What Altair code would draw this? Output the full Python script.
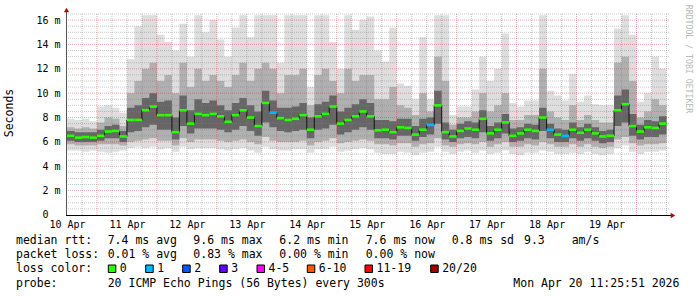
import altair as alt
import pandas as pd

# ---------------- data ----------------
STEP_H = 3  # hours per consolidated column, starting 10 Apr 00:00
median = [6.5, 6.35, 6.4, 6.35, 6.5, 6.85, 6.9, 6.45, 7.8, 7.8,
          8.6, 8.9, 8.2, 8.2, 6.8, 8.6, 7.5, 8.3, 8.2, 8.3,
          8.1, 7.65, 8.2, 8.6, 8.0, 7.3, 9.2, 8.4, 7.95, 7.8,
          7.9, 8.2, 7.0, 8.1, 8.3, 8.9, 7.5, 7.8, 8.1, 8.5,
          8.1, 6.95, 7.0, 6.8, 7.2, 7.15, 6.6, 7.0, 7.4, 9.0,
          6.8, 6.45, 6.9, 7.1, 7.0, 7.9, 6.7, 7.0, 7.6, 6.5,
          6.7, 7.0, 6.9, 8.0, 7.0, 6.6, 6.5, 7.0, 6.75, 7.0,
          6.7, 6.45, 6.5, 8.6, 9.1, 7.3, 6.85, 7.2, 7.15, 7.5]
loss = [0] * 80
for i in (27, 48, 64, 66):
    loss[i] = 1
smoke_max = [7.9, 7.8, 7.9, 7.7, 8.9, 9.0, 8.8, 8.4, 12.8, 15.5,
             16.4, 16.4, 14.8, 14.2, 13.5, 15.7, 13.0, 16.4, 15.0, 16.0,
             14.4, 13.0, 15.4, 16.4, 14.6, 16.4, 16.4, 16.4, 12.5, 16.4,
             16.4, 16.4, 10.5, 16.4, 16.4, 14.2, 12.0, 16.4, 15.2, 16.0,
             16.3, 13.5, 12.6, 15.4, 10.8, 10.6, 9.5, 14.6, 9.5, 16.4,
             16.4, 8.2, 8.9, 8.9, 10.3, 13.0, 11.0, 12.0, 14.9, 9.2,
             8.9, 9.4, 9.4, 16.4, 10.2, 9.8, 9.4, 11.6, 9.3, 9.8,
             9.1, 9.0, 9.0, 15.3, 16.4, 14.8, 9.3, 10.0, 13.0, 12.0]
smoke_hi = [7.2, 7.1, 7.2, 7.1, 7.6, 8.0, 7.9, 7.3, 10.0, 11.0,
            12.0, 12.5, 11.0, 11.5, 10.0, 12.5, 10.5, 12.0, 11.0, 11.5,
            11.0, 10.5, 11.5, 12.5, 11.0, 12.0, 12.5, 12.0, 10.0, 11.5,
            11.5, 12.0, 9.0, 11.5, 12.0, 11.0, 10.0, 12.0, 11.0, 11.5,
            11.5, 9.5, 9.5, 10.5, 9.0, 8.8, 8.2, 10.0, 8.5, 13.0,
            11.0, 7.4, 8.0, 8.0, 8.5, 10.0, 8.5, 9.0, 10.0, 7.8,
            7.8, 8.2, 8.2, 12.0, 8.5, 8.0, 7.8, 9.0, 7.8, 8.2,
            7.8, 7.6, 7.6, 12.5, 13.0, 11.0, 8.0, 8.5, 9.5, 9.0]
core_hi = [6.9, 6.8, 6.8, 6.8, 7.0, 7.3, 7.4, 6.9, 8.8, 9.0,
           9.6, 10.0, 9.3, 9.4, 8.0, 9.8, 8.6, 9.5, 9.2, 9.4,
           9.0, 8.6, 9.2, 9.6, 9.0, 8.5, 10.2, 9.4, 8.8, 8.8,
           8.9, 9.2, 8.0, 9.1, 9.3, 9.8, 8.5, 8.8, 9.1, 9.5,
           9.2, 7.8, 7.8, 7.7, 7.9, 7.9, 7.3, 7.9, 8.0, 10.2,
           7.6, 7.0, 7.5, 7.7, 7.6, 8.6, 7.3, 7.6, 8.3, 7.1,
           7.2, 7.5, 7.4, 8.8, 7.5, 7.1, 7.0, 7.6, 7.2, 7.5,
           7.2, 6.9, 7.0, 9.8, 10.3, 8.3, 7.4, 7.8, 7.7, 8.1]
core_lo = [6.1, 6.0, 6.0, 6.0, 6.1, 6.3, 6.3, 6.0, 6.8, 6.9,
           7.2, 7.4, 7.0, 7.0, 6.2, 7.3, 6.7, 7.1, 7.1, 7.1,
           7.0, 6.8, 7.0, 7.3, 6.9, 6.5, 7.6, 7.2, 6.9, 6.8,
           6.9, 7.0, 6.3, 7.0, 7.1, 7.4, 6.6, 6.8, 7.0, 7.2,
           7.0, 6.3, 6.3, 6.2, 6.5, 6.5, 6.1, 6.4, 6.6, 7.5,
           6.2, 6.0, 6.3, 6.4, 6.3, 6.8, 6.1, 6.3, 6.7, 6.0,
           6.1, 6.3, 6.2, 6.9, 6.3, 6.0, 6.0, 6.3, 6.1, 6.3,
           6.1, 5.9, 6.0, 7.3, 7.6, 6.5, 6.2, 6.4, 6.4, 6.6]
smoke_lo = [5.8, 5.7, 5.7, 5.7, 5.8, 5.8, 5.8, 5.7, 6.0, 6.1,
            6.2, 6.3, 6.1, 6.1, 5.7, 6.3, 6.0, 6.2, 6.2, 6.2,
            6.1, 6.0, 6.1, 6.2, 6.0, 5.8, 6.4, 6.1, 6.0, 6.0,
            6.0, 6.1, 5.7, 6.0, 6.1, 6.3, 5.9, 6.0, 6.1, 6.2,
            6.1, 5.8, 5.8, 5.7, 5.9, 5.9, 5.6, 5.8, 5.9, 6.3,
            5.7, 5.6, 5.8, 5.9, 5.8, 6.0, 5.6, 5.8, 6.0, 5.6,
            5.6, 5.8, 5.7, 6.0, 5.8, 5.6, 5.6, 5.8, 5.6, 5.8,
            5.6, 5.5, 5.6, 6.2, 6.4, 5.9, 5.7, 5.8, 5.8, 5.9]
smoke_min = [5.3, 5.3, 5.2, 5.3, 5.2, 5.1, 5.2, 5.3, 5.5, 5.6,
             5.5, 5.6, 5.4, 5.5, 5.2, 5.6, 5.4, 5.5, 5.5, 5.5,
             5.4, 5.3, 5.4, 5.5, 5.3, 5.1, 5.6, 5.4, 5.3, 5.3,
             5.4, 5.4, 5.1, 5.4, 5.4, 5.6, 5.2, 5.3, 5.4, 5.5,
             5.4, 5.1, 5.0, 5.0, 5.2, 5.1, 4.9, 5.1, 5.2, 5.6,
             5.2, 5.0, 5.2, 5.3, 5.1, 5.3, 5.0, 5.1, 5.3, 5.0,
             4.9, 5.1, 5.1, 5.3, 5.2, 5.0, 5.0, 5.1, 5.0, 5.2,
             5.0, 4.9, 5.0, 5.5, 5.7, 5.2, 5.0, 5.2, 5.2, 5.3]

day_labels = ["10 Apr", "11 Apr", "12 Apr", "13 Apr", "14 Apr",
              "15 Apr", "16 Apr", "17 Apr", "18 Apr", "19 Apr"]
y_ticks = [0, 2, 4, 6, 8, 10, 12, 14, 16]
loss_labels = ["0", "1", "2", "3", "4-5", "6-10", "11-19", "20/20"]
loss_colors = ["#26ff00", "#00b8ff", "#0059ff", "#5e00ff", "#ff00ff",
               "#ff5500", "#ff0000", "#a00000"]

stat_lines = [
    [("median rtt:", 16), ("7.4 ms avg", 107.7), ("9.6 ms max", 193.3),
     ("6.2 ms min", 279.3), ("7.6 ms now", 365.7), ("0.8 ms sd", 451.7),
     ("9.3", 524), ("am/s", 571.7)],
    [("packet loss:", 16), ("0.01 % avg", 107.7), ("0.83 % max", 193.3),
     ("0.00 % min", 279.3), ("0.00 % now", 365.7)],
    [("loss color:", 16)],
    [("probe:", 16), ("20 ICMP Echo Pings (56 Bytes) every 300s", 107.7),
     ("Mon Apr 20 11:25:51 2026", 513.3)],
]

# ---------------- layout ----------------
MONO = "DejaVu Sans Mono"
PADL, PADT, W, H = 67, 14, 602, 201
LINE_Y = [241, 255, 269, 283.5]
SQ_X = [108.3, 145.7, 182.7, 219.7, 257, 307.3, 365, 430.7]

n = len(median)
df = pd.DataFrame({
    "t": [STEP_H * k for k in range(n)],
    "med": median, "mn": smoke_min, "lo": smoke_lo, "clo": core_lo,
    "chi": core_hi, "hi": smoke_hi, "mx": smoke_max,
    "loss": [loss_labels[v] for v in loss],
})
df["t1"] = df["t"] + STEP_H
area_df = pd.concat([df, df.iloc[[-1]].assign(t=STEP_H * n)], ignore_index=True)

XS = alt.Scale(domain=[0, 241], nice=False, zero=False)
YS = alt.Scale(domain=[0, 16.5], nice=False, zero=True)
ONE = pd.DataFrame({"a": [0]})

x_axis = alt.Axis(values=[24 * i for i in range(len(day_labels))],
                  labelExpr="(10 + round(datum.value / 24)) + ' Apr'",
                  grid=False, ticks=False, domain=False, labelFlush=False,
                  labelOverlap=False,
                  labelFont=MONO, labelFontSize=10, labelColor="#000",
                  labelPadding=4, title=None)
y_axis = alt.Axis(values=y_ticks,
                  labelExpr="datum.value == 0 ? '' : datum.value + ' m'",
                  grid=False, ticks=False, domain=False, labelOverlap=False,
                  labelFont=MONO, labelFontSize=10, labelColor="#000",
                  labelPadding=7, title=None)


def X(field):
    return alt.X(field, scale=XS, axis=x_axis)


def Y(field):
    return alt.Y(field, scale=YS, axis=y_axis)


def band(lo, hi, color):
    return alt.Chart(area_df).mark_area(interpolate="step-after", color=color).encode(
        x=X("t:Q"), y=Y(f"{lo}:Q"), y2=f"{hi}:Q")


def grid_x(vals, color, op):
    return alt.Chart(pd.DataFrame({"v": vals})).mark_rule(
        color=color, strokeOpacity=op, strokeDash=[1, 1], strokeWidth=1).encode(
        x=X("v:Q"))


def grid_y(vals, color, op):
    return alt.Chart(pd.DataFrame({"v": vals})).mark_rule(
        color=color, strokeOpacity=op, strokeDash=[1, 1], strokeWidth=1).encode(
        y=Y("v:Q"))


def txt(s, x, y, size=11.5, align="left", angle=None, color="#000"):
    kw = dict(text=s, align=align, baseline="middle", font=MONO,
              fontSize=size, color=color)
    if angle is not None:
        kw["angle"] = angle
    return alt.Chart(ONE).mark_text(**kw).encode(
        x=alt.value(x - PADL), y=alt.value(y - PADT))


layers = [
    band("mn", "mx", "#dedede"),
    band("lo", "hi", "#b0b0b0"),
    band("clo", "chi", "#666666"),
    grid_x([h for h in range(6, 241, 6) if (h - 12) % 24 != 0], "#808080", 0.45),
    grid_y([v / 2 for v in range(1, 34) if v % 4 != 0], "#808080", 0.45),
    grid_x([12 + 24 * k for k in range(10)], "#cc3333", 0.42),
    grid_y([2 * k for k in range(1, 9)], "#cc3333", 0.42),
    alt.Chart(area_df).mark_line(interpolate="step-after", color="#111",
                                 strokeWidth=1).encode(x=X("t:Q"), y=Y("med:Q")),
    alt.Chart(df).mark_rule(strokeWidth=2.6).encode(
        x=X("t:Q"), x2="t1:Q", y=Y("med:Q"),
        color=alt.Color("loss:N", scale=alt.Scale(domain=loss_labels, range=loss_colors),
                        legend=None)),
    # axes lines and arrows
    alt.Chart(ONE).mark_rule(color="#555", strokeWidth=1).encode(
        x=alt.value(-0.5), y=alt.value(-5), y2=alt.value(H)),
    alt.Chart(ONE).mark_rule(color="#000", strokeWidth=1).encode(
        x=alt.value(-1), x2=alt.value(W + 2), y=alt.value(H + 0.5)),
    alt.Chart(ONE).mark_point(shape="triangle-up", filled=True, size=28,
                              color="#a01010", opacity=1).encode(
        x=alt.value(-0.5), y=alt.value(-4)),
    alt.Chart(ONE).mark_point(shape="triangle-right", filled=True, size=28,
                              color="#a01010", opacity=1).encode(
        x=alt.value(W + 4), y=alt.value(H + 0.5)),
    txt("0", 42.5, 214.5, size=10),
    txt("Seconds", 10, 113, size=11.5, align="center", angle=270),
    txt("RRDTOOL / TOBI OETIKER", 688, 59, size=8.2, align="center", angle=90,
        color="#b8b8b8"),
]

for line, y in zip(stat_lines, LINE_Y):
    for s, x in line:
        layers.append(txt(s, x, y))

for lab, col, x in zip(loss_labels, loss_colors, SQ_X):
    layers.append(alt.Chart(ONE).mark_rect(color=col, stroke="#000", strokeWidth=1).encode(
        x=alt.value(x - PADL), x2=alt.value(x + 7.5 - PADL),
        y=alt.value(265 - PADT), y2=alt.value(272.5 - PADT)))
    layers.append(txt(lab, x + 11.5, LINE_Y[2]))

chart = alt.layer(*layers).properties(
    width=W, height=H,
    autosize=alt.AutoSizeParams(type="none"),
    padding={"left": PADL, "top": PADT, "right": 697 - PADL - W, "bottom": 297 - PADT - H},
    background="white",
).configure_view(stroke=None)

chart.save("out.html", embed_options={"renderer": "svg", "actions": False})
